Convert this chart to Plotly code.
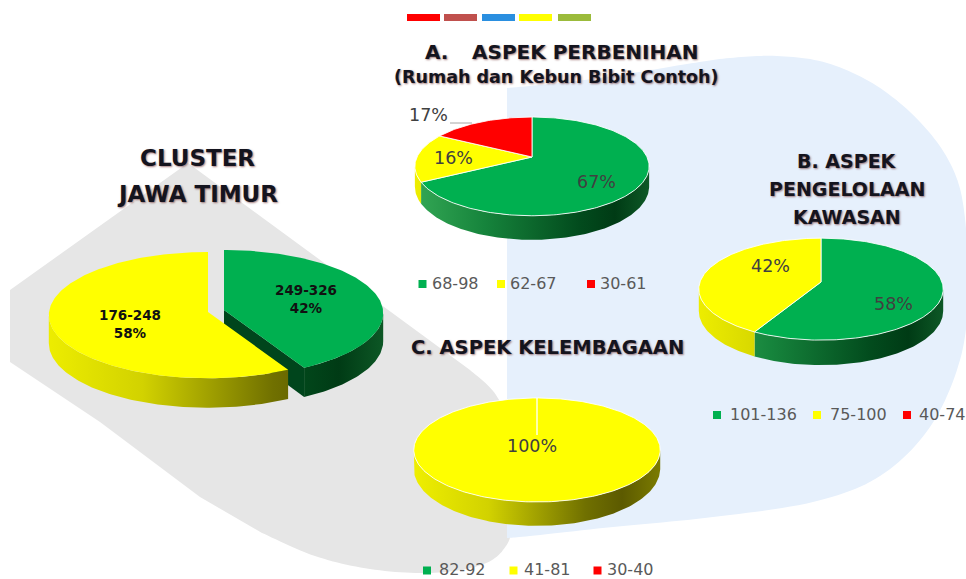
import math
import plotly.graph_objects as go

W, H = 966, 579

# ---------------- data ----------------
top_bar_colors = ["#FF0000", "#C0504D", "#2A8FE0", "#FFFF00", "#9BBB3B"]

cluster_cats = ["249-326", "176-248"]
cluster_vals = [42, 58]

a_cats = ["68-98", "62-67", "30-61"]
a_vals = [67, 16, 17]

b_cats = ["101-136", "75-100", "40-74"]
b_vals = [58, 42, 0]

c_cats = ["82-92", "41-81", "30-40"]
c_vals = [0, 100, 0]

cat_colors = ["#00B050", "#FFFF00", "#FF0000"]          # green, yellow, red
cluster_colors = ["#00B050", "#FFFF00"]

# ---------------- styles / geometry ----------------
SIDE_SCALES = {
    "#00B050": [[0, "#34A855"], [0.3, "#16843C"], [0.7, "#024B1D"], [0.85, "#003B15"], [1, "#0E5A27"]],
    "#FFFF00": [[0, "#EEEE00"], [0.3, "#D2D200"], [0.7, "#707000"], [0.85, "#5C5A00"], [1, "#7A7A00"]],
    "#FF0000": [[0, "#E00000"], [0.7, "#800000"], [1, "#900000"]],
}

PIES = {
    "cluster": dict(cx=208, cy=312, rx=159, ry=63, p=0.05, d=28, rim=0),
    "A": dict(cx=532, cy=157, rx=115, ry=47.6, p=0.19, d=19.5, rim=1),
    "B": dict(cx=821, cy=282, rx=121, ry=50, p=0.14, d=21.5, rim=1),
    "C": dict(cx=537, cy=435, rx=118, ry=47.7, p=0.288, d=17, rim=1),
}
EXPLODE = {"249-326": (16, -2)}

BG = "#FFFFFF"
TITLE_FONT = "DejaVu Sans"
TITLE_COLOR = "#14141E"
TITLE_SHADOW = "1px 1px 2px rgba(90,20,20,0.55)"
LABEL_COLOR = "#404040"
LEGEND_COLOR = "#595959"


def pt(g, th, dep=0.0, off=(0, 0)):
    t = math.radians(th)
    s = 1.0 / (1.0 + g["p"] * math.cos(t))
    return (g["cx"] + off[0] + g["rx"] * math.sin(t) * s,
            g["cy"] + off[1] - g["ry"] * math.cos(t) * s + dep * g["d"] * s)


def arc(g, a0, a1, dep=0.0, off=(0, 0)):
    n = max(2, int(abs(a1 - a0) / 1.0) + 1)
    return [pt(g, a0 + (a1 - a0) * i / (n - 1), dep, off) for i in range(n)]


def slices(vals):
    tot = float(sum(vals))
    out, acc = [], 0.0
    for v in vals:
        a0 = 360.0 * acc / tot
        acc += v
        out.append((a0, 360.0 * acc / tot))
    return out


fig = go.Figure()


def add_poly(pts, **kw):
    xs = [p[0] for p in pts] + [pts[0][0]]
    ys = [p[1] for p in pts] + [pts[0][1]]
    fig.add_trace(go.Scatter(x=xs, y=ys, mode="lines", fill="toself",
                             hoverinfo="skip", showlegend=False, **kw))


def side_wall(g, a0, a1, color, off=(0, 0)):
    vis0 = math.degrees(math.acos(-g["p"]))
    vis1 = 360 - vis0
    lo, hi = max(a0, vis0), min(a1, vis1)
    if hi <= lo:
        return
    top = arc(g, lo, hi, 0, off)
    bot = arc(g, hi, lo, 1, off)
    x0 = g["cx"] + off[0] - g["rx"] * 1.03
    x1 = g["cx"] + off[0] + g["rx"] * 1.03
    add_poly(top + bot, line=dict(width=0),
             fillgradient=dict(type="horizontal", colorscale=SIDE_SCALES[color],
                               start=x0, stop=x1))


def top_face(g, a0, a1, color, off=(0, 0)):
    c = (g["cx"] + off[0], g["cy"] + off[1])
    pts = [c] + arc(g, a0, a1, 0, off)
    if g["rim"]:
        add_poly(pts, fillcolor=color, line=dict(color="rgba(255,255,255,0.85)", width=1))
    else:
        add_poly(pts, fillcolor=color, line=dict(width=0))


def radial_face(g, ang, color, off=(0, 0)):
    c_top = (g["cx"] + off[0], g["cy"] + off[1])
    c_bot = (g["cx"] + off[0], g["cy"] + off[1] + g["d"])
    e_top = pt(g, ang, 0, off)
    e_bot = pt(g, ang, 1, off)
    add_poly([c_top, e_top, e_bot, c_bot], fillcolor=color, line=dict(width=0))


def draw_pie(key, vals, colors):
    g = PIES[key]
    sl = slices(vals)
    for (a0, a1), v, col in zip(sl, vals, colors):
        if v > 0:
            side_wall(g, a0, a1, col)
    for (a0, a1), v, col in zip(sl, vals, colors):
        if v > 0:
            top_face(g, a0, a1, col)


# ---------------- cluster pie (exploded green) ----------------
gcl = PIES["cluster"]
cl_sl = slices(cluster_vals)
off_g = EXPLODE[cluster_cats[0]]
radial_face(gcl, cl_sl[0][1], "#00451C", off_g)
side_wall(gcl, *cl_sl[1], cluster_colors[1])
top_face(gcl, *cl_sl[1], cluster_colors[1])
side_wall(gcl, *cl_sl[0], cluster_colors[0], off_g)
top_face(gcl, *cl_sl[0], cluster_colors[0], off_g)

# ---------------- A, B, C pies ----------------
draw_pie("A", a_vals, cat_colors)
draw_pie("B", b_vals, cat_colors)
draw_pie("C", c_vals, cat_colors)

# ---------------- legends (square markers) ----------------
LEG = {
    "A": dict(y=283, sq=[422.5, 501, 591], tx=[430, 508, 598]),
    "B": dict(y=414, sq=[717, 817, 907], tx=[728, 828, 917]),
    "C": dict(y=569.5, sq=[427, 513.5, 597.5], tx=[437, 522, 605]),
}
annotations = []
for key, cats in (("A", a_cats), ("B", b_cats), ("C", c_cats)):
    L = LEG[key]
    fig.add_trace(go.Scatter(x=L["sq"], y=[L["y"] + 1] * len(cats), mode="markers",
                             marker=dict(symbol="square", size=8, color=cat_colors,
                                         line=dict(width=0)),
                             hoverinfo="skip", showlegend=False, cliponaxis=False))
    for cat, x in zip(cats, L["tx"]):
        annotations.append(dict(x=x, y=L["y"], text=cat, xanchor="left", yanchor="middle",
                                showarrow=False,
                                font=dict(family="DejaVu Sans", size=16, color=LEGEND_COLOR)))

# ---------------- percentage labels ----------------
LBL = {
    "A": [(596, 182), (453, 158), (428, 115)],
    "B": [(893, 304), (770, 266)],
    "C": [(None, None), (532, 446)],
}
for key, vals in (("A", a_vals), ("B", b_vals), ("C", c_vals)):
    for (x, y), v in zip(LBL[key], vals):
        if v > 0 and x is not None:
            annotations.append(dict(x=x, y=y, text=f"{v}%", showarrow=False,
                                    xanchor="center", yanchor="middle",
                                    font=dict(family="DejaVu Sans", size=17.5, color=LABEL_COLOR)))

CL_LBL = [(306, 299), (130, 323.5)]
for (x, y), cat, v in zip(CL_LBL, cluster_cats, cluster_vals):
    annotations.append(dict(x=x, y=y, text=f"<b>{cat}<br>{v}%</b>", showarrow=False,
                            xanchor="center", yanchor="middle",
                            font=dict(family="DejaVu Sans", size=13.5, color="#111111")))

# ---------------- titles ----------------
def title(x, y, text, size, xanchor="center"):
    annotations.append(dict(x=x, y=y, text=f"<b>{text}</b>", showarrow=False,
                            xanchor=xanchor, yanchor="middle",
                            font=dict(family=TITLE_FONT, size=size, color=TITLE_COLOR,
                                      shadow=TITLE_SHADOW)))

title(197, 158, "CLUSTER", 23)
title(197, 194, "JAWA TIMUR", 23)
title(423, 52, "A.", 20, "left")
title(470, 52, "ASPEK PERBENIHAN", 20, "left")
title(556, 77, "(Rumah dan Kebun Bibit Contoh)", 17.5)
title(847, 161, "B. ASPEK", 19)
title(847, 189, "PENGELOLAAN", 19)
title(847, 217, "KAWASAN", 19)
title(547, 347, "C. ASPEK KELEMBAGAAN", 19.5)

# ---------------- background shapes ----------------
def catmull(points, n=12):
    out = []
    P = [points[0]] + points + [points[-1]]
    for i in range(1, len(P) - 2):
        p0, p1, p2, p3 = P[i - 1], P[i], P[i + 1], P[i + 2]
        for k in range(n):
            t = k / n
            t2, t3 = t * t, t * t * t
            x = 0.5 * (2 * p1[0] + (-p0[0] + p2[0]) * t + (2 * p0[0] - 5 * p1[0] + 4 * p2[0] - p3[0]) * t2 + (-p0[0] + 3 * p1[0] - 3 * p2[0] + p3[0]) * t3)
            y = 0.5 * (2 * p1[1] + (-p0[1] + p2[1]) * t + (2 * p0[1] - 5 * p1[1] + 4 * p2[1] - p3[1]) * t2 + (-p0[1] + 3 * p1[1] - 3 * p2[1] + p3[1]) * t3)
            out.append((x, y))
    out.append(points[-1])
    return out


def path_of(pts):
    return "M " + " L ".join(f"{x:.1f},{y:.1f}" for x, y in pts) + " Z"


gray_pts = [(10, 290), (188, 163)] + catmull(
    [(470, 370), (496, 395), (507, 430), (512, 520), (503, 550), (478, 566),
     (430, 573), (370, 569), (315, 556), (262, 533)]) + [(200, 497), (100, 422), (10, 362)]
blue_pts = [(507, 88)] + catmull(
    [(507, 88), (560, 83), (620, 75), (687, 64), (730, 58), (777, 56), (827, 63),
     (877, 86), (920, 122), (950, 163), (964, 210), (968, 293), (960, 360),
     (930, 427), (880, 476), (813, 502), (713, 517), (613, 527), (530, 536),
     (507, 538)])

shapes = [
    dict(type="path", path=path_of(gray_pts), fillcolor="#E6E6E6",
         line=dict(width=0), layer="below", xref="x", yref="y"),
    dict(type="path", path=path_of(blue_pts), fillcolor="#E6F0FC",
         line=dict(width=0), layer="below", xref="x", yref="y"),
    dict(type="line", x0=450, x1=472, y0=123, y1=123, line=dict(color="#A6A6A6", width=1),
         xref="x", yref="y"),
]
bar_x = [(407, 440), (444, 477), (482, 515), (519, 552), (558, 591)]
for (x0, x1), col in zip(bar_x, top_bar_colors):
    shapes.append(dict(type="rect", x0=x0, x1=x1, y0=14, y1=21, fillcolor=col,
                       line=dict(width=0), xref="x", yref="y"))

fig.update_layout(
    width=W, height=H, margin=dict(l=0, r=0, t=0, b=0),
    paper_bgcolor=BG, plot_bgcolor="rgba(0,0,0,0)",
    xaxis=dict(range=[0, W], visible=False, fixedrange=True),
    yaxis=dict(range=[H, 0], visible=False, fixedrange=True),
    showlegend=False, shapes=shapes, annotations=annotations,
)

# remove the page's default body margin so the figure fills the window exactly
fig.write_html("out.html",
               config={"displayModeBar": False, "staticPlot": True},
               post_script="document.body.style.margin='0';document.body.style.overflow='hidden';")
